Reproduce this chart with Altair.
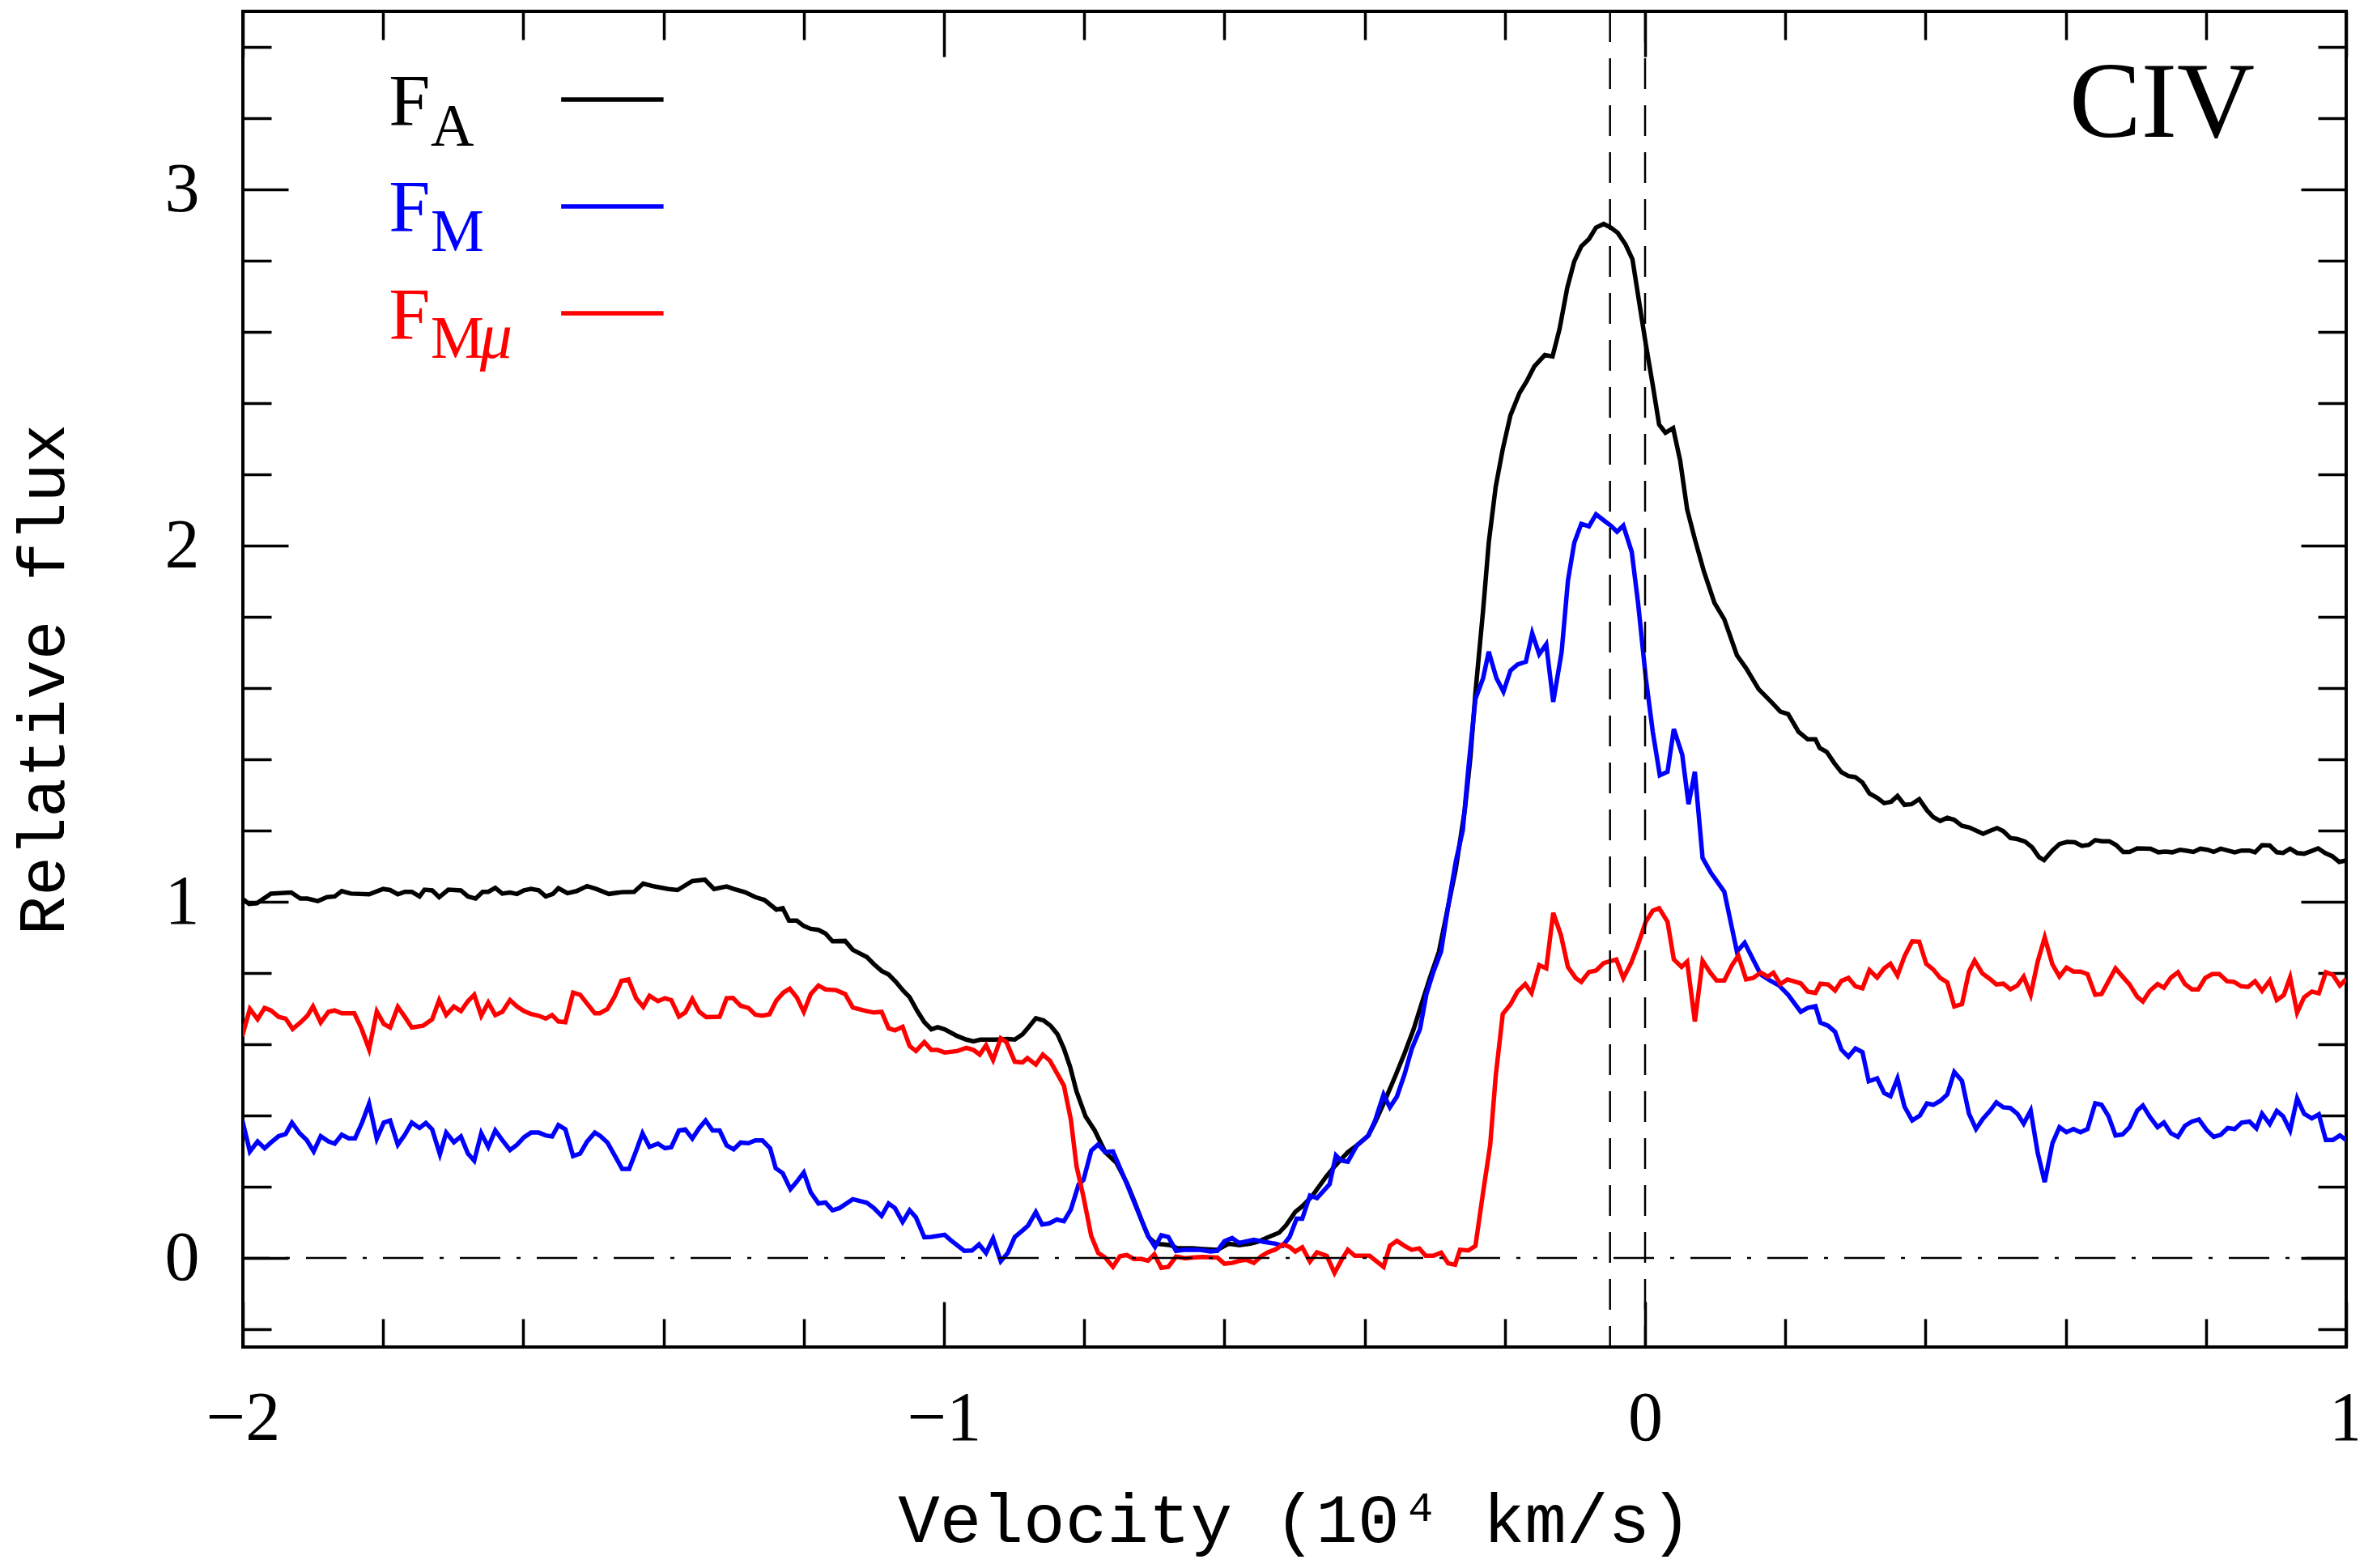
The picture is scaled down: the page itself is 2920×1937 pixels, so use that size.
import altair as alt
import pandas as pd

# ---------------- data ----------------
FA_V = [-2.001,-1.991,-1.980,-1.960,-1.931,-1.918,-1.908,-1.893,-1.880,-1.869,-1.859,-1.846,-1.820,-1.800,-1.790,-1.779,-1.769,-1.759,-1.748,-1.741,-1.730,-1.720,-1.707,-1.689,-1.679,-1.668,-1.658,-1.650,-1.640,-1.630,-1.619,-1.609,-1.599,-1.589,-1.578,-1.568,-1.558,-1.550,-1.537,-1.524,-1.509,-1.496,-1.478,-1.460,-1.442,-1.429,-1.413,-1.393,-1.380,-1.359,-1.341,-1.328,-1.310,-1.300,-1.284,-1.269,-1.256,
        -1.239,-1.230,-1.221,-1.210,-1.200,-1.190,-1.179,-1.169,-1.159,-1.141,-1.130,-1.110,-1.100,-1.089,-1.079,-1.069,-1.058,-1.049,-1.038,-1.028,-1.018,-1.009,-0.999,-0.981,-0.968,-0.958,-0.948,-0.927,-0.909,-0.899,-0.888,-0.878,-0.869,-0.858,-0.848,-0.838,-0.829,-0.820,-0.811,-0.798,-0.785,-0.770,-0.754,-0.739,-0.729,-0.718,-0.708,-0.698,-0.687,-0.677,-0.667,-0.646,-0.631,-0.610,-0.594,-0.579,-0.563,-0.553,-0.538,-0.522,-0.512,-0.499,-0.489,-0.476,
        -0.455,-0.442,-0.424,-0.411,-0.395,-0.385,-0.372,-0.356,-0.343,-0.330,-0.320,-0.307,-0.294,-0.281,-0.270,-0.257,-0.249,-0.242,-0.231,-0.223,-0.213,-0.203,-0.192,-0.179,-0.169,-0.158,-0.143,-0.132,-0.122,-0.111,-0.101,-0.091,-0.080,-0.070,-0.059,-0.049,-0.039,-0.028,-0.018,-0.010,0.001,0.011,0.020,0.029,0.040,0.050,0.060,0.071,0.084,0.099,0.113,0.131,0.144,0.162,0.180,0.193,0.204,0.219,0.232,0.243,
        0.249,0.259,0.270,0.280,0.290,0.300,0.310,0.320,0.331,0.341,0.351,0.360,0.370,0.380,0.391,0.402,0.411,0.421,0.431,0.441,0.452,0.462,0.472,0.482,0.493,0.502,0.511,0.521,0.531,0.542,0.552,0.562,0.569,0.581,0.591,0.602,0.613,0.623,0.633,0.642,0.652,0.662,0.672,0.682,0.691,0.702,0.721,0.732,0.742,0.752,0.763,0.773,0.782,0.792,0.802,0.811,0.821,0.831,0.841,0.851,0.862,0.870,0.880,0.891,0.901,0.910,0.920,0.930,0.940,0.951,0.960,0.970,0.980,0.990,1.000]
FA_F = [1.009,0.994,0.996,1.023,1.026,1.009,1.009,1.002,1.013,1.015,1.030,1.023,1.021,1.036,1.033,1.021,1.028,1.028,1.015,1.034,1.032,1.013,1.034,1.032,1.015,1.009,1.028,1.028,1.039,1.023,1.026,1.022,1.032,1.036,1.032,1.015,1.022,1.038,1.024,1.030,1.044,1.036,1.022,1.027,1.028,1.051,1.043,1.036,1.033,1.058,1.062,1.036,1.043,1.036,1.027,1.013,1.005,
        0.978,0.982,0.947,0.947,0.932,0.924,0.921,0.911,0.889,0.890,0.865,0.845,0.825,0.806,0.796,0.776,0.750,0.732,0.693,0.662,0.642,0.648,0.642,0.623,0.613,0.608,0.613,0.613,0.615,0.613,0.628,0.651,0.673,0.667,0.652,0.628,0.588,0.536,0.468,0.397,0.358,0.297,0.267,0.210,0.162,0.105,0.058,0.040,0.038,0.036,0.027,0.027,0.025,0.023,0.040,0.036,0.040,0.045,0.058,0.071,0.092,0.129,0.145,0.171,
        0.228,0.259,0.297,0.316,0.343,0.381,0.438,0.512,0.575,0.643,0.706,0.786,0.860,0.986,1.092,1.260,1.408,1.587,1.819,2.008,2.166,2.271,2.366,2.429,2.461,2.503,2.535,2.531,2.608,2.724,2.798,2.840,2.861,2.893,2.903,2.893,2.878,2.846,2.804,2.703,2.566,2.450,2.340,2.317,2.330,2.239,2.102,2.018,1.927,1.839,1.793,1.692,1.656,1.597,1.561,1.534,1.527,1.477,1.456,1.456,
        1.432,1.421,1.389,1.364,1.353,1.350,1.335,1.304,1.292,1.277,1.281,1.297,1.272,1.274,1.288,1.257,1.238,1.227,1.236,1.230,1.213,1.209,1.200,1.191,1.200,1.207,1.198,1.179,1.176,1.169,1.153,1.125,1.117,1.144,1.162,1.168,1.167,1.157,1.160,1.173,1.170,1.170,1.159,1.140,1.140,1.150,1.149,1.139,1.141,1.139,1.146,1.143,1.140,1.149,1.146,1.140,1.149,1.144,1.139,1.144,1.144,1.139,1.159,1.158,1.139,1.137,1.149,1.137,1.135,1.143,1.150,1.137,1.128,1.112,1.116]

FM_V = [-2.001,-1.990,-1.979,-1.969,-1.960,-1.949,-1.939,-1.930,-1.919,-1.909,-1.899,-1.889,-1.878,-1.869,-1.859,-1.849,-1.840,-1.830,-1.820,-1.809,-1.799,-1.790,-1.779,-1.769,-1.759,-1.748,-1.739,-1.730,-1.719,-1.710,-1.699,-1.689,-1.679,-1.670,-1.660,-1.650,-1.640,-1.630,-1.619,-1.609,-1.599,-1.589,-1.578,-1.568,-1.559,-1.550,-1.540,-1.529,-1.519,-1.509,-1.498,-1.490,-1.480,-1.470,-1.459,-1.449,-1.439,-1.430,-1.420,-1.408,-1.398,-1.389,-1.378,-1.369,-1.359,-1.349,-1.340,-1.330,-1.320,-1.310,-1.300,-1.290,-1.279,-1.269,-1.259,-1.248,-1.240,-1.230,-1.219,-1.210,
        -1.200,-1.190,-1.179,-1.169,-1.159,-1.149,-1.130,-1.110,-1.100,-1.089,-1.079,-1.070,-1.059,-1.049,-1.040,-1.028,-1.018,-0.999,-0.991,-0.971,-0.960,-0.950,-0.940,-0.930,-0.919,-0.909,-0.899,-0.888,-0.880,-0.869,-0.860,-0.850,-0.839,-0.829,-0.819,-0.808,-0.801,-0.790,-0.780,-0.770,-0.759,-0.749,-0.739,-0.729,-0.718,-0.709,-0.699,-0.690,-0.680,-0.669,-0.656,-0.636,-0.620,-0.610,-0.600,-0.589,-0.579,-0.558,-0.543,-0.527,-0.517,-0.507,-0.497,-0.489,-0.478,-0.468,-0.450,-0.441,
        -0.434,-0.424,-0.411,-0.395,-0.385,-0.373,-0.364,-0.354,-0.343,-0.333,-0.321,-0.312,-0.302,-0.291,-0.281,-0.270,-0.260,-0.252,-0.242,-0.231,-0.223,-0.212,-0.202,-0.192,-0.182,-0.170,-0.161,-0.151,-0.141,-0.131,-0.119,-0.110,-0.101,-0.091,-0.080,-0.070,-0.059,-0.049,-0.040,-0.031,-0.019,-0.010,0.001,0.011,0.021,0.032,0.041,0.053,0.062,0.071,0.082,0.094,0.113,0.131,0.142,0.154,0.165,0.178,0.191,0.204,0.222,0.232,0.243,
        0.250,0.261,0.271,0.280,0.290,0.300,0.310,0.319,0.331,0.341,0.350,0.360,0.370,0.381,0.392,0.402,0.411,0.421,0.431,0.441,0.452,0.462,0.472,0.482,0.492,0.501,0.511,0.521,0.531,0.540,0.550,0.560,0.570,0.581,0.591,0.601,0.611,0.621,0.631,0.642,0.651,0.661,0.671,0.681,0.691,0.702,0.710,0.720,0.731,0.740,0.750,0.760,0.770,0.780,0.790,0.801,0.811,0.821,0.831,0.841,0.851,0.862,0.872,0.880,0.891,0.901,0.910,0.920,0.930,0.940,0.951,0.961,0.971,0.981,0.991,1.000]
FM_F = [0.388,0.299,0.327,0.308,0.324,0.342,0.348,0.380,0.350,0.331,0.299,0.342,0.327,0.321,0.346,0.336,0.336,0.380,0.433,0.335,0.380,0.386,0.318,0.346,0.380,0.365,0.379,0.361,0.291,0.352,0.325,0.341,0.293,0.273,0.350,0.312,0.358,0.331,0.303,0.318,0.339,0.352,0.352,0.344,0.341,0.373,0.361,0.286,0.293,0.327,0.352,0.342,0.324,0.289,0.250,0.250,0.301,0.350,0.312,0.321,0.308,0.311,0.358,0.361,0.335,0.365,0.386,0.358,0.358,0.316,0.305,0.324,0.322,0.330,0.330,0.308,0.252,0.238,0.193,0.214,
        0.240,0.184,0.153,0.156,0.134,0.140,0.165,0.155,0.140,0.118,0.153,0.140,0.101,0.134,0.114,0.058,0.059,0.065,0.051,0.020,0.021,0.038,0.014,0.055,-0.009,0.014,0.059,0.077,0.091,0.129,0.094,0.097,0.108,0.103,0.136,0.206,0.219,0.301,0.319,0.297,0.299,0.253,0.207,0.158,0.105,0.062,0.031,0.064,0.059,0.020,0.023,0.023,0.018,0.020,0.047,0.056,0.042,0.051,0.045,0.040,0.034,0.059,0.110,0.110,0.175,0.168,0.207,0.288,
        0.274,0.270,0.316,0.343,0.386,0.459,0.423,0.453,0.516,0.586,0.643,0.740,0.803,0.860,0.986,1.113,1.201,1.376,1.569,1.628,1.702,1.628,1.590,1.649,1.666,1.674,1.754,1.695,1.723,1.561,1.702,1.902,2.008,2.061,2.054,2.088,2.071,2.056,2.039,2.056,1.982,1.839,1.629,1.477,1.355,1.365,1.485,1.413,1.274,1.365,1.123,1.081,1.028,0.860,0.885,0.838,0.796,0.779,0.765,0.739,0.691,0.702,0.707,
        0.661,0.652,0.635,0.585,0.565,0.588,0.578,0.496,0.504,0.463,0.454,0.504,0.425,0.386,0.400,0.434,0.430,0.441,0.459,0.522,0.497,0.405,0.362,0.391,0.413,0.437,0.423,0.421,0.405,0.377,0.414,0.295,0.213,0.322,0.367,0.353,0.362,0.353,0.362,0.434,0.430,0.398,0.344,0.347,0.367,0.414,0.428,0.396,0.367,0.380,0.350,0.340,0.371,0.383,0.389,0.359,0.340,0.346,0.365,0.362,0.380,0.383,0.364,0.405,0.376,0.413,0.398,0.358,0.448,0.405,0.392,0.403,0.331,0.331,0.344,0.331]

FMU_V = [-2.001,-1.990,-1.979,-1.969,-1.960,-1.949,-1.939,-1.929,-1.918,-1.908,-1.900,-1.889,-1.878,-1.869,-1.859,-1.841,-1.831,-1.820,-1.809,-1.799,-1.790,-1.779,-1.769,-1.759,-1.743,-1.730,-1.720,-1.710,-1.699,-1.689,-1.679,-1.670,-1.660,-1.650,-1.640,-1.630,-1.619,-1.609,-1.599,-1.589,-1.578,-1.568,-1.559,-1.550,-1.540,-1.529,-1.519,-1.509,-1.498,-1.491,-1.480,-1.470,-1.460,-1.450,-1.439,-1.429,-1.420,-1.408,-1.398,-1.389,-1.378,-1.369,-1.359,-1.349,-1.339,-1.320,-1.310,-1.301,-1.290,-1.279,-1.269,-1.259,
         -1.249,-1.239,-1.229,-1.220,-1.210,-1.200,-1.190,-1.179,-1.169,-1.154,-1.141,-1.130,-1.110,-1.100,-1.089,-1.079,-1.070,-1.059,-1.049,-1.040,-1.028,-1.018,-1.009,-0.999,-0.981,-0.968,-0.958,-0.949,-0.940,-0.930,-0.919,-0.911,-0.899,-0.888,-0.881,-0.869,-0.859,-0.849,-0.837,-0.829,-0.819,-0.811,-0.801,-0.790,-0.780,-0.770,-0.759,-0.749,-0.739,-0.729,-0.718,-0.709,-0.700,-0.690,-0.680,-0.669,-0.656,-0.646,-0.631,-0.610,-0.600,-0.589,-0.579,-0.569,-0.558,-0.548,-0.538,-0.527,-0.517,-0.507,-0.499,-0.489,-0.478,-0.468,
         -0.454,-0.443,-0.433,-0.424,-0.414,-0.393,-0.382,-0.373,-0.364,-0.354,-0.343,-0.333,-0.322,-0.313,-0.302,-0.291,-0.281,-0.271,-0.264,-0.252,-0.242,-0.231,-0.221,-0.213,-0.203,-0.192,-0.182,-0.171,-0.162,-0.151,-0.141,-0.131,-0.120,-0.110,-0.099,-0.091,-0.080,-0.070,-0.059,-0.041,-0.031,-0.020,-0.011,0.001,0.011,0.020,0.032,0.041,0.052,0.060,0.071,0.082,0.093,0.102,0.113,0.124,0.133,0.144,0.154,0.165,0.175,0.183,0.193,0.203,0.222,0.232,0.243,
         0.250,0.261,0.271,0.280,0.290,0.300,0.310,0.320,0.331,0.341,0.350,0.360,0.370,0.381,0.391,0.401,0.411,0.421,0.431,0.441,0.452,0.462,0.470,0.481,0.492,0.501,0.511,0.521,0.531,0.540,0.550,0.560,0.570,0.581,0.591,0.601,0.611,0.621,0.631,0.642,0.651,0.661,0.671,0.681,0.691,0.702,0.710,0.720,0.731,0.740,0.750,0.760,0.770,0.780,0.789,0.799,0.809,0.819,0.830,0.840,0.850,0.860,0.870,0.880,0.891,0.901,0.911,0.920,0.930,0.940,0.951,0.961,0.971,0.981,0.991,1.000]
FMU_F = [0.623,0.699,0.670,0.702,0.695,0.677,0.672,0.643,0.661,0.680,0.706,0.661,0.691,0.695,0.687,0.687,0.645,0.586,0.692,0.657,0.647,0.705,0.677,0.647,0.652,0.670,0.724,0.682,0.706,0.693,0.721,0.739,0.680,0.717,0.682,0.691,0.724,0.706,0.693,0.685,0.680,0.672,0.682,0.664,0.662,0.745,0.739,0.714,0.687,0.687,0.699,0.733,0.778,0.782,0.729,0.705,0.736,0.721,0.729,0.724,0.678,0.689,0.727,0.691,0.676,0.677,0.729,0.730,0.708,0.702,0.683,0.680,
         0.684,0.723,0.745,0.756,0.732,0.691,0.741,0.765,0.754,0.752,0.741,0.703,0.693,0.689,0.691,0.645,0.639,0.649,0.595,0.581,0.606,0.584,0.584,0.577,0.581,0.590,0.584,0.571,0.597,0.556,0.617,0.606,0.551,0.549,0.561,0.543,0.571,0.554,0.512,0.484,0.388,0.258,0.171,0.062,0.014,0.001,-0.025,0.005,0.008,-0.003,-0.003,-0.008,0.010,-0.028,-0.025,0.004,-0.001,0.001,0.003,0.001,-0.016,-0.014,-0.008,-0.005,-0.014,0.004,0.016,0.024,0.038,0.031,0.018,0.030,-0.010,0.016,
         0.006,-0.042,-0.006,0.023,0.006,0.006,-0.011,-0.025,0.034,0.048,0.034,0.023,0.027,0.006,0.006,0.015,-0.015,-0.019,0.023,0.021,0.034,0.185,0.316,0.512,0.685,0.712,0.748,0.769,0.744,0.822,0.813,0.969,0.906,0.817,0.786,0.775,0.803,0.807,0.828,0.838,0.786,0.828,0.874,0.944,0.975,0.982,0.944,0.838,0.817,0.832,0.664,0.834,0.801,0.779,0.779,0.822,0.849,0.782,0.786,0.801,0.790,0.801,0.769,0.782,0.771,0.748,0.744,
         0.770,0.768,0.751,0.778,0.786,0.763,0.757,0.808,0.787,0.813,0.826,0.793,0.847,0.889,0.888,0.826,0.810,0.786,0.774,0.706,0.713,0.804,0.835,0.799,0.783,0.768,0.770,0.754,0.765,0.790,0.739,0.832,0.900,0.824,0.790,0.815,0.804,0.804,0.797,0.739,0.741,0.777,0.813,0.790,0.768,0.733,0.720,0.750,0.769,0.759,0.787,0.802,0.769,0.754,0.754,0.786,0.797,0.797,0.777,0.775,0.763,0.761,0.777,0.750,0.779,0.724,0.738,0.788,0.689,0.732,0.748,0.743,0.802,0.795,0.765,0.783]

X_MAJOR = [-2, -1, 0, 1]
X_MINOR = [-1.8, -1.6, -1.4, -1.2, -0.8, -0.6, -0.4, -0.2, 0.2, 0.4, 0.6, 0.8]
Y_MAJOR = [0, 1, 2, 3]
Y_MINOR = [-0.2, 0.2, 0.4, 0.6, 0.8, 1.2, 1.4, 1.6, 1.8, 2.2, 2.4, 2.6, 2.8, 3.2, 3.4]
V_MARKERS = [-0.05, 0.0]
ZERO_LEVEL = [0.0]

LEG_SUB = ["A", "M", "M"]
LEG_COLOR = ["#000000", "#0000ff", "#ff0000"]
LEG_F_V = [-1.792, -1.792, -1.792]
LEG_F_Y = [3.180, 2.882, 2.580]
LEG_SUB_V = [-1.732, -1.732, -1.732]
LEG_SUB_Y = [3.123, 2.827, 2.527]
LEG_MU = ["\u03bc"]
LEG_MU_V = [-1.662]
LEG_MU_Y = [2.527]
LEG_LINE_V1 = [-1.546, -1.546, -1.546]
LEG_LINE_V2 = [-1.400, -1.400, -1.400]
LEG_LINE_Y = [3.252, 2.952, 2.652]
ION_LABEL = ["CIV"]
ION_V = [0.605]
ION_Y = [3.148]

# ---------------- chart ----------------
W, H = 2598, 1650
XS = alt.Scale(domain=[-2, 1], nice=False, zero=False)
YS = alt.Scale(domain=[-0.25, 3.5], nice=False, zero=False)
TICK_W = 3.5
LW = 5.5

def tick_axis(orient, values, size, offset):
    return alt.Axis(orient=orient, offset=offset, values=values, labels=False,
                    domain=False, grid=False, ticks=True, tickSize=size,
                    tickWidth=TICK_W, tickColor="black", title=None)

ax_bottom = alt.Axis(orient="bottom", values=X_MAJOR, format="d", ticks=False, tickSize=0,
                     domain=False, grid=False, labelFont="Liberation Serif", labelFontSize=86,
                     labelColor="black", labelPadding=46, labelFlush=False, labelOverlap=False,
                     title="Velocity (10\u2074 km/s)", titleFont="Liberation Mono",
                     titleFontSize=86, titleFontWeight="normal", titleColor="black",
                     titleBaseline="alphabetic", titleX=W / 2, titleY=240, titleAlign="center")
ax_left = alt.Axis(orient="left", values=Y_MAJOR, format="d", ticks=False, tickSize=0,
                   domain=False, grid=False, labelFont="Liberation Serif", labelFontSize=86,
                   labelColor="black", labelPadding=54, labelFlush=False, labelOverlap=False,
                   title="Relative flux", titleFont="Liberation Mono", titleFontSize=81,
                   titleFontWeight="normal", titleColor="black", titleAngle=270,
                   titleBaseline="alphabetic", titleX=-222, titleY=H / 2, titleAlign="center")

def series(v, f, color, xa=None, ya=None):
    df = pd.DataFrame({"v": v, "f": f})
    return alt.Chart(df).mark_line(color=color, strokeWidth=LW, clip=True).encode(
        x=alt.X("v:Q", scale=XS, axis=xa),
        y=alt.Y("f:Q", scale=YS, axis=ya),
    )

line_a = series(FA_V, FA_F, "#000000", ax_bottom, ax_left)
line_m = series(FM_V, FM_F, "#0000ff")
line_mu = series(FMU_V, FMU_F, "#ff0000")

vlines = alt.Chart(pd.DataFrame({"v": V_MARKERS})).mark_rule(
    color="black", strokeWidth=2.5, strokeDash=[38, 20]).encode(
    x=alt.X("v:Q", scale=XS, axis=tick_axis("top", X_MAJOR, 56, -H)))

zero = alt.Chart(pd.DataFrame({"f": ZERO_LEVEL})).mark_rule(
    color="black", strokeWidth=2.5, strokeDash=[50, 20, 5, 20]).encode(
    y=alt.Y("f:Q", scale=YS, axis=tick_axis("right", Y_MAJOR, 56, -W)))

leg_df = pd.DataFrame({"sub": LEG_SUB, "c": LEG_COLOR, "fv": LEG_F_V, "fy": LEG_F_Y,
                       "sv": LEG_SUB_V, "sy": LEG_SUB_Y, "v1": LEG_LINE_V1,
                       "v2": LEG_LINE_V2, "ly": LEG_LINE_Y, "F": ["F"] * 3})

leg_lines = alt.Chart(leg_df).mark_rule(strokeWidth=LW).encode(
    x=alt.X("v1:Q", scale=XS, axis=tick_axis("top", X_MINOR, 35, -H)),
    x2="v2:Q",
    y=alt.Y("ly:Q", scale=YS, axis=tick_axis("right", Y_MINOR, 35, -W)),
    color=alt.Color("c:N", scale=None))

leg_f = alt.Chart(leg_df).mark_text(font="Liberation Serif", fontSize=92, align="left",
                                    baseline="alphabetic").encode(
    x=alt.X("fv:Q", scale=XS, axis=tick_axis("bottom", X_MAJOR, 56, -H)),
    y=alt.Y("fy:Q", scale=YS, axis=tick_axis("left", Y_MAJOR, 56, -W)),
    text="F:N", color=alt.Color("c:N", scale=None))

leg_sub = alt.Chart(leg_df).mark_text(font="Liberation Serif", fontSize=74, align="left",
                                      baseline="alphabetic").encode(
    x=alt.X("sv:Q", scale=XS, axis=tick_axis("bottom", X_MINOR, 35, -H)),
    y=alt.Y("sy:Q", scale=YS, axis=tick_axis("left", Y_MINOR, 35, -W)),
    text="sub:N", color=alt.Color("c:N", scale=None))

leg_mu = alt.Chart(pd.DataFrame({"t": LEG_MU, "v": LEG_MU_V, "f": LEG_MU_Y})).mark_text(
    font="Liberation Serif", fontSize=80, fontStyle="italic", align="left",
    baseline="alphabetic", color="#ff0000").encode(
    x=alt.X("v:Q", scale=XS, axis=None),
    y=alt.Y("f:Q", scale=YS, axis=None),
    text="t:N")

ion = alt.Chart(pd.DataFrame({"t": ION_LABEL, "v": ION_V, "f": ION_Y})).mark_text(
    font="Liberation Serif", fontSize=133, align="left", baseline="alphabetic", color="black").encode(
    x=alt.X("v:Q", scale=XS, axis=None),
    y=alt.Y("f:Q", scale=YS, axis=None),
    text="t:N")

chart = alt.layer(line_a, line_m, line_mu, vlines, zero, leg_lines, leg_f, leg_sub, leg_mu, ion).resolve_axis(
    x="independent", y="independent"
).properties(
    width=W, height=H,
    autosize=alt.AutoSizeParams(type="none"),
    padding={"left": 292, "top": 6, "right": 14, "bottom": 265},
    background="white",
).configure_view(stroke="black", strokeWidth=4)

chart.save("out.html", embed_options={"renderer": "svg", "actions": False})
